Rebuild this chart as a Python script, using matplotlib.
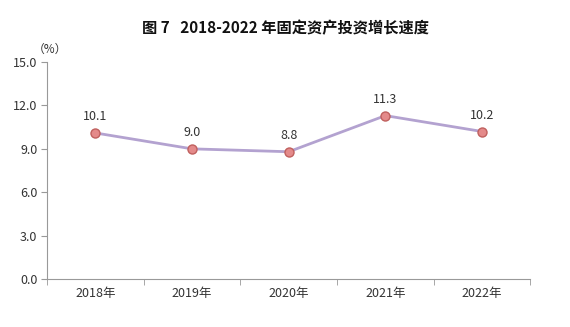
import numpy as np
import matplotlib
matplotlib.use('Agg')
import matplotlib.pyplot as plt

plt.rcParams['font.family'] = ['Noto Sans CJK SC', 'DejaVu Sans']

years = ['2018年', '2019年', '2020年', '2021年', '2022年']
growth = [10.1, 9.0, 8.8, 11.3, 10.2]
yticks = [0.0, 3.0, 6.0, 9.0, 12.0, 15.0]

fig = plt.figure(figsize=(5.7, 3.27), dpi=100)
ax = fig.add_axes([0.0825, 0.147, 0.848, 0.663])

x = np.arange(len(years))
ax.plot(x, growth, color='#b3a2d0', linewidth=2, zorder=2)
ax.plot(x, growth, linestyle='none', marker='o', markersize=6.5,
        markerfacecolor='#e48a8a', markeredgecolor='#c0605e',
        markeredgewidth=1, zorder=3)

for xi, v in zip(x, growth):
    ax.annotate('%.1f' % v, (xi, v), xytext=(0, 7), textcoords='offset points',
                ha='center', va='bottom', fontsize=9, color='#333333')

ax.set_xlim(-0.5, len(years) - 0.5)
ax.set_ylim(0, 15)
ax.set_yticks(yticks)
ax.set_yticklabels(['%.1f' % t for t in yticks], fontsize=9, color='#333333')
ax.set_xticks(x)
ax.set_xticklabels(years, fontsize=9, color='#333333')
ax.set_xticks(np.arange(len(years) + 1) - 0.5, minor=True)

ax.tick_params(axis='x', which='major', length=0, pad=6)
ax.tick_params(axis='x', which='minor', length=4, color='#999999')
ax.tick_params(axis='y', length=4, color='#999999', pad=3)

for side in ['top', 'right']:
    ax.spines[side].set_visible(False)
ax.spines['left'].set_color('#999999')
ax.spines['bottom'].set_color('#999999')

ax.text(0.005, 1.03, '（%）', transform=ax.transAxes, ha='center', va='bottom',
        fontsize=8.5, color='#333333')

fig.text(0.5, 0.915, '图 7   2018-2022 年固定资产投资增长速度', ha='center',
         va='center', fontsize=11, fontweight='bold', color='#111111')

fig.savefig('out.png', dpi=100)
